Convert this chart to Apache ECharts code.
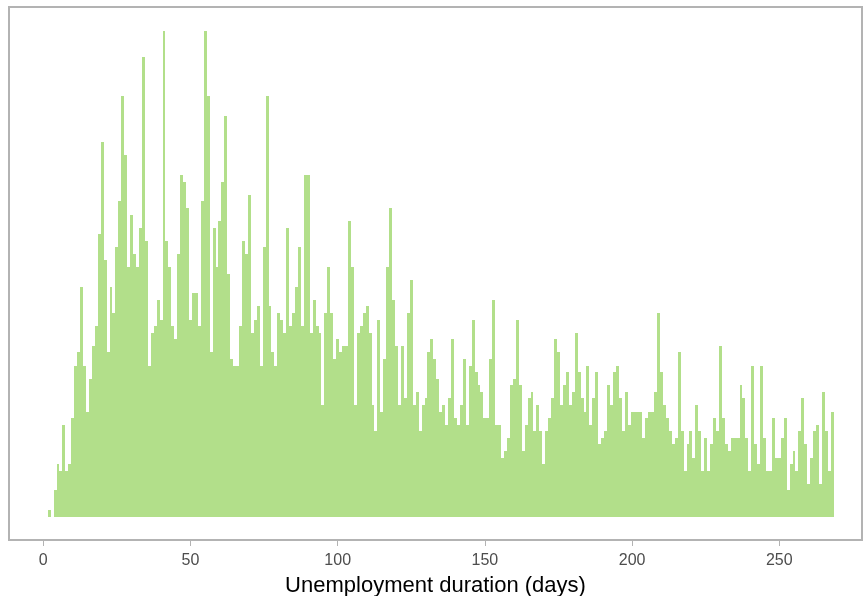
<!DOCTYPE html>
<html>
<head>
<meta charset="utf-8">
<script src="https://cdn.jsdelivr.net/npm/echarts@6.0.0/dist/echarts.min.js"></script>
<style>
  html, body { margin: 0; padding: 0; background: #ffffff; }
  #chart { width: 863px; height: 596px; }
</style>
</head>
<body>
<div id="chart"></div>
<script>
// Unemployment duration in days (one bin per day)
const days = [];
for (let d = 2; d <= 268; d++) days.push(d);

// Bar heights (relative frequency, arbitrary units)
const counts = [
  // 2-33
  7, 0, 27, 53, 46, 92, 46, 53, 99, 151, 165, 230, 151, 105, 138, 171, 191, 283, 375, 257, 165, 230, 204, 270, 316, 421, 362, 250, 302, 263, 250, 289,
  // 34-65
  460, 276, 151, 184, 191, 217, 197, 486, 276, 250, 191, 178, 263, 342, 335, 309, 197, 224, 224, 191, 316, 486, 421, 165, 289, 250, 296, 335, 401, 243, 158, 151,
  // 66-99
  151, 191, 276, 263, 322, 184, 197, 211, 151, 270, 421, 211, 165, 151, 204, 197, 184, 289, 191, 204, 230, 270, 191, 342, 342, 184, 217, 191, 184, 112, 204, 250, 204, 158,
  // 100-132
  178, 165, 171, 171, 296, 250, 112, 184, 191, 204, 211, 184, 112, 86, 197, 105, 158, 250, 309, 217, 171, 112, 171, 119, 204, 237, 112, 125, 86, 112, 119, 165, 178,
  // 133-166
  158, 138, 105, 112, 92, 119, 178, 99, 92, 112, 158, 92, 151, 197, 145, 132, 125, 99, 99, 158, 217, 92, 92, 59, 66, 79, 132, 138, 197, 132, 66, 92, 119, 125,
  // 167-199
  86, 112, 86, 53, 86, 99, 119, 178, 165, 112, 132, 145, 112, 125, 184, 145, 119, 105, 151, 92, 119, 145, 73, 79, 86, 132, 112, 145, 151, 119, 86, 125, 92,
  // 200-232
  105, 105, 105, 105, 79, 99, 105, 105, 125, 204, 145, 112, 99, 86, 73, 79, 165, 86, 46, 73, 86, 59, 112, 86, 46, 79, 46, 73, 99, 86, 171, 99, 73,
  // 233-268
  66, 79, 79, 79, 132, 119, 79, 46, 151, 73, 53, 151, 79, 46, 46, 99, 59, 59, 79, 99, 27, 53, 66, 46, 86, 119, 73, 33, 59, 86, 92, 33, 125, 86, 46, 105
];

const tickValues = [0, 50, 100, 150, 200, 250];

const seriesData = days.map((d, i) => [d, counts[i]]);

const chart = echarts.init(document.getElementById('chart'), null, { renderer: 'canvas' });
chart.setOption({
  animation: false,
  backgroundColor: '#ffffff',
  grid: {
    left: 9, right: 1, top: 7, bottom: 56,
    outerBoundsMode: 'none',
    containLabel: false,
    show: true,
    borderColor: '#b3b3b3',
    borderWidth: 2,
    backgroundColor: 'transparent'
  },
  xAxis: {
    type: 'value',
    min: -11.65,
    max: 278.1,
    name: 'Unemployment duration (days)',
    nameLocation: 'middle',
    nameGap: 35,
    nameTextStyle: { fontFamily: 'Liberation Sans', fontSize: 22, color: '#000000' },
    axisLine: { show: true, onZero: false, lineStyle: { color: '#b3b3b3', width: 2 } },
    axisTick: { show: true, length: 6, customValues: tickValues, lineStyle: { color: '#b3b3b3', width: 1 } },
    axisLabel: {
      customValues: tickValues,
      margin: 13,
      fontFamily: 'Liberation Sans', fontSize: 16, color: '#4d4d4d'
    },
    splitLine: { show: false }
  },
  yAxis: {
    type: 'value',
    min: -23.3,
    max: 509.7,
    show: false,
    splitLine: { show: false }
  },
  series: [{
    type: 'custom',
    data: seriesData,
    renderItem: function (params, api) {
      const d = api.value(0);
      const v = api.value(1);
      if (!v) return null;
      const left = api.coord([d - 0.5, v]);
      const right = api.coord([d + 0.5, 0]);
      const x0 = Math.round(left[0]);
      const x1 = Math.round(right[0]);
      const y0 = Math.round(left[1]);
      const y1 = Math.round(right[1]);
      return {
        type: 'rect',
        shape: { x: x0, y: y0, width: x1 - x0, height: y1 - y0 },
        style: { fill: '#b2df8a' }
      };
    }
  }]
});
</script>
</body>
</html>
